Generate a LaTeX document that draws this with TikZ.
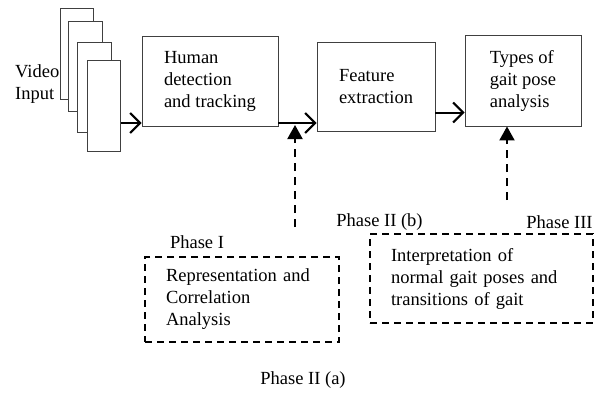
\documentclass[tikz,border=0pt]{standalone}
\usepackage{fontspec}
\setmainfont{Liberation Serif}
\usetikzlibrary{arrows.meta,calc}
\begin{document}
\begin{tikzpicture}[x=1pt,y=-1pt,
  every node/.style={font=\fontsize{18.5pt}{22pt}\selectfont},
  frame/.style={draw=black!75,line width=0.9pt,fill=white,minimum width=#1,anchor=north west,inner sep=0pt},
  stage/.style={draw=black!75,line width=0.9pt,align=left,inner sep=0pt},
  phasebox/.style={draw,line width=1.6pt,dash pattern=on 7pt off 5pt,align=left,inner xsep=21pt,inner ysep=0pt},
  flow/.style={line width=2pt,-{Straight Barb[length=10pt,width=20pt,line width=2pt]}},
  feed/.style={line width=2pt,dash pattern=on 8pt off 6pt,-{Triangle[length=14pt,width=15pt]}},
  lbl/.style={inner sep=0pt}]
\useasboundingbox (0,0) rectangle (594,407);
% video frames
\node[frame=33pt,minimum height=91pt] (f1) at (60,8) {};
\node[frame=34pt,minimum height=90pt] (f2) at (68,21) {};
\node[frame=34pt,minimum height=90pt] (f3) at (77,42) {};
\node[frame=33pt,minimum height=91pt] (f4) at (87,60) {};
\node[lbl,align=left,anchor=west] (vid) at (15,84.5) {Video\\Input};
% stages
\node[stage,minimum width=136pt,minimum height=90pt] (b1) at (210,81) {Human\\detection\\and tracking};
\node[stage,minimum width=118pt,minimum height=89pt] (b2) at (376,86.5) {Feature\\extraction};
\node[stage,minimum width=116pt,minimum height=91pt] (b3) at (523,80.5) {Types of\\gait pose\\analysis};
% phase boxes
\node[phasebox,text width=152pt,minimum height=85pt] (p1) at (242,299.5) {Representation and\\Correlation\\Analysis};
\node[phasebox,text width=181pt,minimum height=89pt] (p2) at (481.5,278.5) {Interpretation of\\normal gait poses and\\transitions of gait};
% labels
\node[lbl] (l1) at (197,242) {Phase I};
\node[lbl] (l2) at (379.5,222) {Phase II (b)};
\node[lbl] (l3) at (559.5,222) {Phase III};
\node[lbl] (l4) at (303,380) {Phase II (a)};
% connectors
\coordinate (ya) at (0,123);
\coordinate (yb) at (0,112.5);
\draw[flow] (f4.east |- ya) -- (b1.west |- ya);
\draw[flow] (b1.east |- ya) -- (b2.west |- ya);
\draw[flow] (b2.east |- yb) -- (b3.west |- yb);
\coordinate (s1) at (295,227);
\coordinate (t1) at (295,125);
\coordinate (s2) at (507,200);
\draw[feed] (s1) -- (t1);
\draw[feed] (s2) -- (s2 |- b3.south);
\end{tikzpicture}
\end{document}
